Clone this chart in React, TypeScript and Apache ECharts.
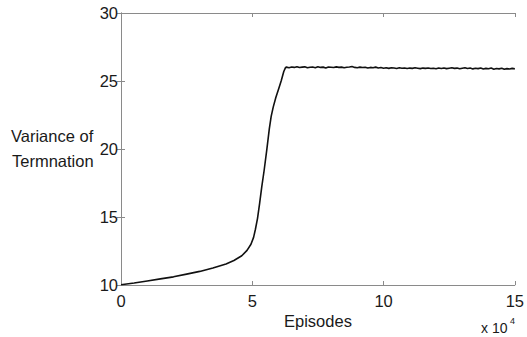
import React, { useEffect, useRef } from "react";
import * as echarts from "echarts";

// Episodes in units of 10^4
const episodes: number[] = [
  0, 0.5, 1.0, 1.5, 2.0, 2.5, 3.0, 3.5, 4.0, 4.3, 4.6, 4.8, 4.95, 5.05, 5.12, 5.2,
  5.28, 5.36, 5.45, 5.55, 5.65, 5.72, 5.8, 5.9, 6.0, 6.1, 6.2, 6.27,
  6.3, 6.4, 6.5, 6.6, 6.7, 6.8, 6.9, 7.0, 7.1, 7.2, 7.3, 7.4, 7.5, 7.6, 7.7, 7.8, 7.9,
  8.0, 8.1, 8.2, 8.3, 8.4, 8.5, 8.6, 8.7, 8.8, 8.9, 9.0, 9.1, 9.2, 9.3, 9.4, 9.5, 9.6,
  9.7, 9.8, 9.9, 10.0, 10.1, 10.2, 10.3, 10.4, 10.5, 10.6, 10.7, 10.8, 10.9, 11.0,
  11.1, 11.2, 11.3, 11.4, 11.5, 11.6, 11.7, 11.8, 11.9, 12.0, 12.1, 12.2, 12.3, 12.4,
  12.5, 12.6, 12.7, 12.8, 12.9, 13.0, 13.1, 13.2, 13.3, 13.4, 13.5, 13.6, 13.7, 13.8,
  13.9, 14.0, 14.1, 14.2, 14.3, 14.4, 14.5, 14.6, 14.7, 14.8, 14.9, 15.0,
];

const variance: number[] = [
  10.02, 10.15, 10.3, 10.45, 10.6, 10.8, 11.0, 11.25, 11.55, 11.8, 12.15, 12.55, 13.0,
  13.5, 14.1, 14.9, 16.0, 17.2, 18.4, 19.9, 21.5, 22.4, 23.1, 23.8, 24.4, 25.0, 25.7, 26.0,
  26.02, 25.98, 26.03, 26.0, 26.05, 25.99, 26.02, 26.04, 25.97, 26.01, 26.03, 25.98,
  26.05, 26.0, 26.02, 25.96, 26.03, 26.01, 25.99, 26.04, 26.0, 26.02, 25.97, 26.01,
  26.03, 26.06, 26.0, 25.98, 26.02, 25.99, 26.01, 25.95, 26.0, 25.97, 26.02, 25.96,
  25.99, 25.94, 25.97, 25.93, 25.98, 25.95, 25.92, 25.97, 25.94, 25.96, 25.92, 25.95,
  25.93, 25.97, 25.94, 25.91, 25.95, 25.93, 25.96, 25.92, 25.94, 25.9, 25.95, 25.92,
  25.96, 25.91, 25.94, 25.97, 25.93, 25.95, 25.9, 25.94, 25.97, 25.92, 25.95, 25.89,
  25.94, 25.91, 25.96, 25.88, 25.93, 25.9, 25.95, 25.87, 25.92, 25.89, 25.94, 25.86,
  25.91, 25.88, 25.93, 25.89,
];

const xTicks = { min: 0, max: 15, interval: 5 };
const yTicks = { min: 10, max: 30, interval: 5 };

const FONT = "'Liberation Sans', Arial, Helvetica, sans-serif";
const AXIS_COLOR = "#8a8a8a";
const TEXT_COLOR = "#1a1a1a";

export default function App() {
  const ref = useRef<HTMLDivElement>(null);

  useEffect(() => {
    if (!ref.current) return;
    const chart = echarts.init(ref.current, undefined, { renderer: "svg" });
    const data = episodes.map((e, i) => [e, variance[i]]);

    const axisLine = { show: true, lineStyle: { color: AXIS_COLOR, width: 1 } };
    const axisTick = { show: true, inside: true, length: 4, lineStyle: { color: AXIS_COLOR } };

    chart.setOption({
      animation: false,
      backgroundColor: "#fff",
      textStyle: { fontFamily: FONT },
      grid: { left: 121, right: 11, top: 13, bottom: 52, containLabel: false },
      xAxis: [
        {
          type: "value",
          position: "bottom",
          ...xTicks,
          axisLine,
          axisTick,
          splitLine: { show: false },
          axisLabel: { fontSize: 16.5, color: TEXT_COLOR, margin: 7, fontFamily: FONT },
        },
        {
          type: "value",
          position: "top",
          ...xTicks,
          axisLine,
          axisTick,
          splitLine: { show: false },
          axisLabel: { show: false },
        },
      ],
      yAxis: [
        {
          type: "value",
          position: "left",
          ...yTicks,
          axisLine,
          axisTick,
          splitLine: { show: false },
          axisLabel: { fontSize: 16.5, color: TEXT_COLOR, margin: 3, fontFamily: FONT },
        },
        {
          type: "value",
          position: "right",
          ...yTicks,
          axisLine,
          axisTick,
          splitLine: { show: false },
          axisLabel: { show: false },
        },
      ],
      series: [
        {
          type: "line",
          data,
          xAxisIndex: 0,
          yAxisIndex: 0,
          showSymbol: false,
          symbol: "none",
          lineStyle: { color: "#111", width: 1.6 },
        },
      ],
      graphic: [
        {
          type: "text",
          left: 11,
          top: 127,
          style: { text: "Variance of", fontSize: 16.5, fill: TEXT_COLOR, fontFamily: FONT },
        },
        {
          type: "text",
          left: 12,
          top: 152,
          style: { text: "Termnation", fontSize: 16.5, fill: TEXT_COLOR, fontFamily: FONT },
        },
        {
          type: "text",
          left: 284,
          top: 312,
          style: { text: "Episodes", fontSize: 16.5, fill: TEXT_COLOR, fontFamily: FONT },
        },
        {
          type: "text",
          left: 481,
          top: 321,
          style: { text: "x 10", fontSize: 14, fill: TEXT_COLOR, fontFamily: FONT },
        },
        {
          type: "text",
          left: 510,
          top: 316,
          style: { text: "4", fontSize: 9, fill: TEXT_COLOR, fontFamily: FONT },
        },
      ],
    });

    return () => chart.dispose();
  }, []);

  return (
    <div
      ref={ref}
      style={{ position: "fixed", left: 0, top: 0, width: 527, height: 337, background: "#fff" }}
    />
  );
}
